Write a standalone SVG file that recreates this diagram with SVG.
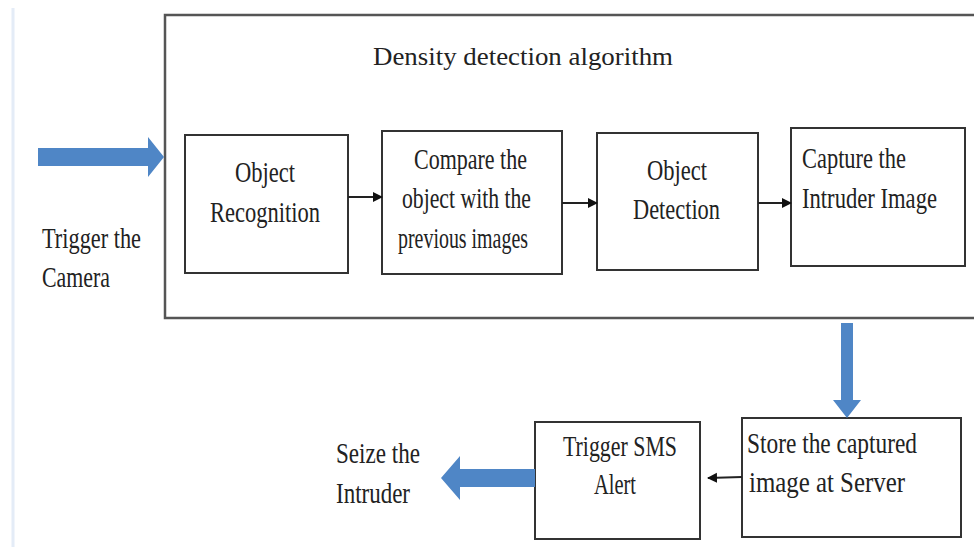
<svg xmlns="http://www.w3.org/2000/svg" width="974" height="547" viewBox="0 0 974 547">
<defs>
<style>
.box{fill:#fff;stroke:#333;stroke-width:2}
.frame{fill:#fff;stroke:#555;stroke-width:2.5}
.t{font-family:"Liberation Serif","Times New Roman",serif;font-size:29px;fill:#222}
.title{font-family:"Liberation Serif","Times New Roman",serif;font-size:26px;fill:#222}
.big{fill:#4f86c6}
.ln{stroke:#222;stroke-width:2;fill:none}
</style>
<marker id="ah" markerWidth="12" markerHeight="12" refX="9" refY="6" orient="auto" markerUnits="userSpaceOnUse">
<path d="M0,1 L10,6 L0,11 Z" fill="#111"/>
</marker>
</defs>
<rect width="974" height="547" fill="#fff"/>
<line x1="13" y1="8" x2="13" y2="547" stroke="#e4ecf7" stroke-width="3"/>
<g id="frame">
<rect class="frame" x="165" y="15" width="815" height="303"/>
<text class="title" x="373" y="65" textLength="300" lengthAdjust="spacingAndGlyphs">Density detection algorithm</text>
</g>
<g id="trigger-camera">
<path class="big" d="M38,148 H148 V137 L164,157 L148,177 V166 H38 Z"/>
<text class="t" x="42" y="248" textLength="99" lengthAdjust="spacingAndGlyphs">Trigger the</text>
<text class="t" x="42" y="287" textLength="68" lengthAdjust="spacingAndGlyphs">Camera</text>
</g>
<g id="object-recognition">
<rect class="box" x="185" y="135" width="163" height="138"/>
<text class="t" x="235" y="182" textLength="60" lengthAdjust="spacingAndGlyphs">Object</text>
<text class="t" x="210" y="222" textLength="110" lengthAdjust="spacingAndGlyphs">Recognition</text>
</g>
<g id="compare">
<rect class="box" x="382" y="131" width="180" height="143"/>
<text class="t" x="414" y="169" textLength="113" lengthAdjust="spacingAndGlyphs">Compare the</text>
<text class="t" x="402" y="208" textLength="129" lengthAdjust="spacingAndGlyphs">object with the</text>
<text class="t" x="398" y="248" textLength="130" lengthAdjust="spacingAndGlyphs">previous images</text>
</g>
<g id="object-detection">
<rect class="box" x="597" y="133" width="161" height="137"/>
<text class="t" x="647" y="180" textLength="60" lengthAdjust="spacingAndGlyphs">Object</text>
<text class="t" x="633" y="219" textLength="87" lengthAdjust="spacingAndGlyphs">Detection</text>
</g>
<g id="capture">
<rect class="box" x="791" y="128" width="174" height="138"/>
<text class="t" x="802" y="168" textLength="104" lengthAdjust="spacingAndGlyphs">Capture the</text>
<text class="t" x="802" y="208" textLength="135" lengthAdjust="spacingAndGlyphs">Intruder Image</text>
</g>
<g id="store">
<rect class="box" x="742" y="418" width="219" height="119"/>
<text class="t" x="747" y="453" textLength="170" lengthAdjust="spacingAndGlyphs">Store the captured</text>
<text class="t" x="749" y="492" textLength="156" lengthAdjust="spacingAndGlyphs">image at Server</text>
</g>
<g id="sms">
<rect class="box" x="535" y="422" width="165" height="117"/>
<text class="t" x="563" y="456" textLength="114" lengthAdjust="spacingAndGlyphs">Trigger SMS</text>
<text class="t" x="594" y="494" textLength="42" lengthAdjust="spacingAndGlyphs">Alert</text>
</g>
<g id="seize">
<text class="t" x="336" y="463" textLength="84" lengthAdjust="spacingAndGlyphs">Seize the</text>
<text class="t" x="336" y="503" textLength="74" lengthAdjust="spacingAndGlyphs">Intruder</text>
</g>
<g id="connectors">
<line class="ln" x1="348" y1="197" x2="382" y2="197" marker-end="url(#ah)"/>
<line class="ln" x1="562" y1="203" x2="597" y2="203" marker-end="url(#ah)"/>
<line class="ln" x1="758" y1="203" x2="791" y2="203" marker-end="url(#ah)"/>
<line class="ln" x1="742" y1="477" x2="708" y2="478" marker-end="url(#ah)"/>
<path class="big" d="M841,323 H853 V400 H861 L847,418 L833,400 H841 Z"/>
<path class="big" d="M535,469 H460 V456 L441,478 L460,500 V487 H535 Z"/>
</g>
</svg>
